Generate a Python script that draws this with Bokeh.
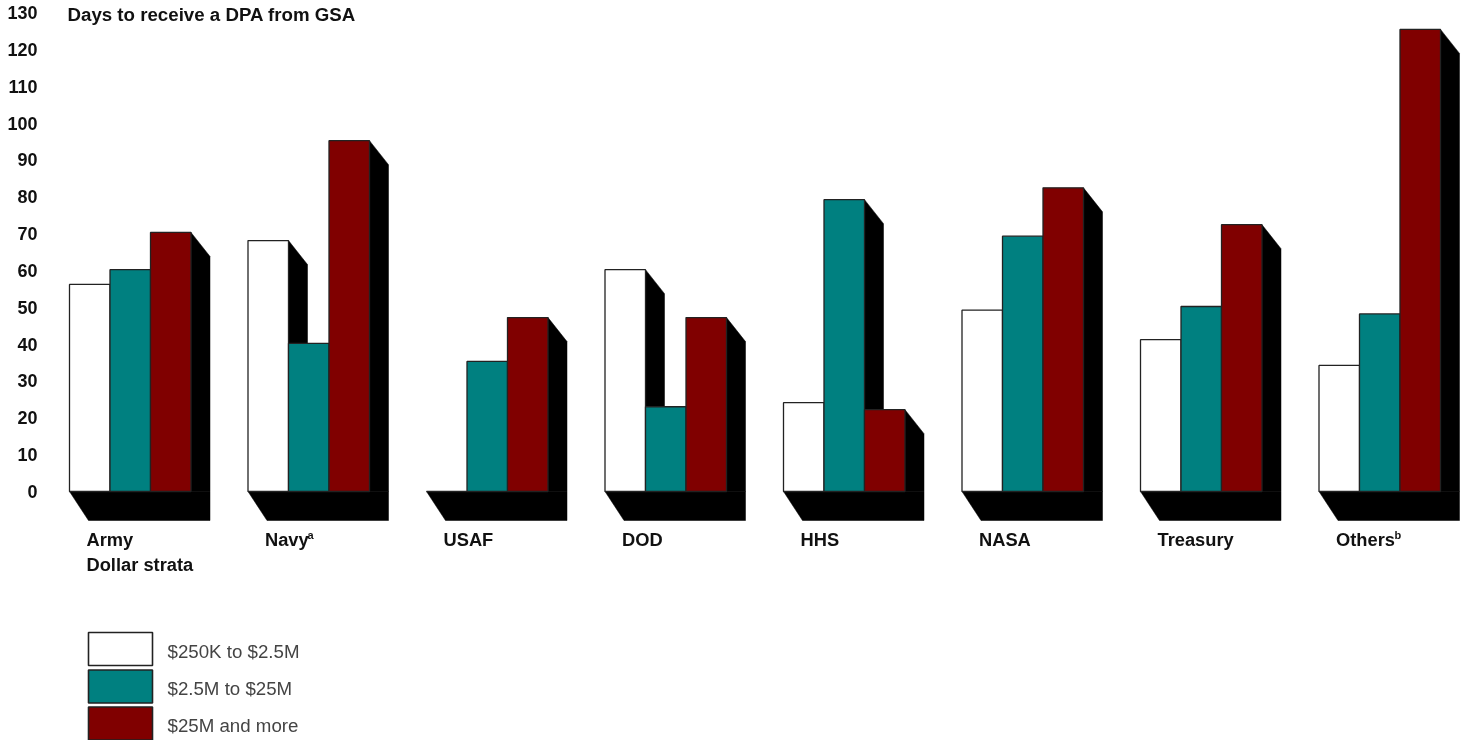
from bokeh.plotting import figure
from bokeh.embed import file_html
from bokeh.resources import INLINE
from bokeh.models import Range1d, FixedTicker, ColumnDataSource
from bokeh.core.properties import value

agencies = ["Army", "Navy", "USAF", "DOD", "HHS", "NASA", "Treasury", "Others"]
notes = ["", "a", "", "", "", "", "", "b"]
low = [56.2, 68.1, 0, 60.2, 24.1, 49.2, 41.2, 34.2]
mid = [60.2, 40.2, 35.3, 23.0, 79.2, 69.3, 50.2, 48.2]
high = [70.3, 95.2, 47.2, 47.2, 22.2, 82.4, 72.4, 125.4]
series_names = ["$250K to $2.5M", "$2.5M to $25M", "$25M and more"]
series_colors = ["#ffffff", "#008080", "#800000"]
y_ticks = list(range(0, 140, 10))

FONT = "Liberation Sans"
W, H = 1468, 740
LEFT = 45
X0, GROUP = 69.0, 178.5     # px of first bar, px per group
Y0, UNIT = 491.0, 3.685     # px of zero, px per day
BAR = 40.5 / GROUP
DX = 19 / GROUP
DY_TOP = 24 / UNIT
DY_BASE = 29 / UNIT

p = figure(width=W, height=H, output_backend="svg", toolbar_location=None,
           x_range=Range1d((LEFT - X0) / GROUP, (W - X0) / GROUP),
           y_range=Range1d((Y0 - H) / UNIT, Y0 / UNIT),
           x_axis_location=None, min_border_left=LEFT, min_border_right=0,
           min_border_top=0, min_border_bottom=0)
p.styles = {"position": "fixed", "left": "0px", "top": "0px"}
p.outline_line_color = None
p.grid.visible = False

ax = p.yaxis[0]
ax.ticker = FixedTicker(ticks=y_ticks)
ax.axis_line_color = None
ax.major_tick_line_color = None
ax.minor_tick_line_color = None
ax.major_tick_out = 0
ax.major_tick_in = 0
ax.minor_tick_out = 0
ax.minor_tick_in = 0
ax.major_label_standoff = 8
ax.major_label_text_font = FONT
ax.major_label_text_font_style = "bold"
ax.major_label_text_font_size = "18px"
ax.major_label_text_color = "#111111"

series = [low, mid, high]
n = len(agencies)

# floor of each group's extrusion
xs_base, ys_base = [], []
for i in range(n):
    a, b = i, i + 3 * BAR
    xs_base.append([a, a + DX, b + DX, b + DX, b])
    ys_base.append([0, -DY_BASE, -DY_BASE, 0, 0])
p.patches(xs_base, ys_base, fill_color="black", line_color="black", line_width=0.5)

# side wall of each bar
xs_side, ys_side = [], []
for s, vals in enumerate(series):
    for i, v in enumerate(vals):
        r = i + (s + 1) * BAR
        xs_side.append([r, r + DX, r + DX, r])
        ys_side.append([v, v - DY_TOP, 0, 0])
p.patches(xs_side, ys_side, fill_color="black", line_color="black", line_width=0.5)

for s, vals in enumerate(series):
    src = ColumnDataSource(dict(x=[i + (s + 0.5) * BAR for i in range(n)], top=vals))
    p.vbar(x="x", top="top", bottom=0, width=BAR, source=src,
           fill_color=series_colors[s], line_color="#222222", line_width=1.3)

def ypx(px):
    return (Y0 - px) / UNIT

def xpx(px):
    return (px - X0) / GROUP

# key
key_mid = [648.5, 686.0, 723.0]
p.quad(left=[xpx(88)] * 3, right=[xpx(152)] * 3,
       top=[ypx(c - 16.5) for c in key_mid], bottom=[ypx(c + 16.5) for c in key_mid],
       fill_color=series_colors, line_color="#222222", line_width=1.6)
p.text([xpx(167)] * 3, [ypx(c + 2) for c in key_mid], text=series_names,
       text_font=value(FONT), text_font_size="18.7px", text_color="#444444",
       text_baseline="middle", text_align="left")

bold = dict(text_font=value(FONT), text_font_style="bold", text_color="#111111",
            text_baseline="middle", text_align="left")

p.text([i + 17 / GROUP for i in range(n)], [ypx(539)] * n, text=agencies,
       text_font_size="18.3px", **bold)
p.text([xpx(86)], [ypx(564)], text=["Dollar strata"], text_font_size="18.3px", **bold)
p.text([xpx(67)], [ypx(14)], text=["Days to receive a DPA from GSA"], text_font_size="18.7px", **bold)

note_px = {"a": 307, "b": 1394}
nx = [xpx(note_px[t]) for t in notes if t]
p.text(nx, [ypx(534)] * len(nx), text=[t for t in notes if t], text_font_size="11px", **bold)

open("out.html", "w").write(file_html(p, INLINE))
